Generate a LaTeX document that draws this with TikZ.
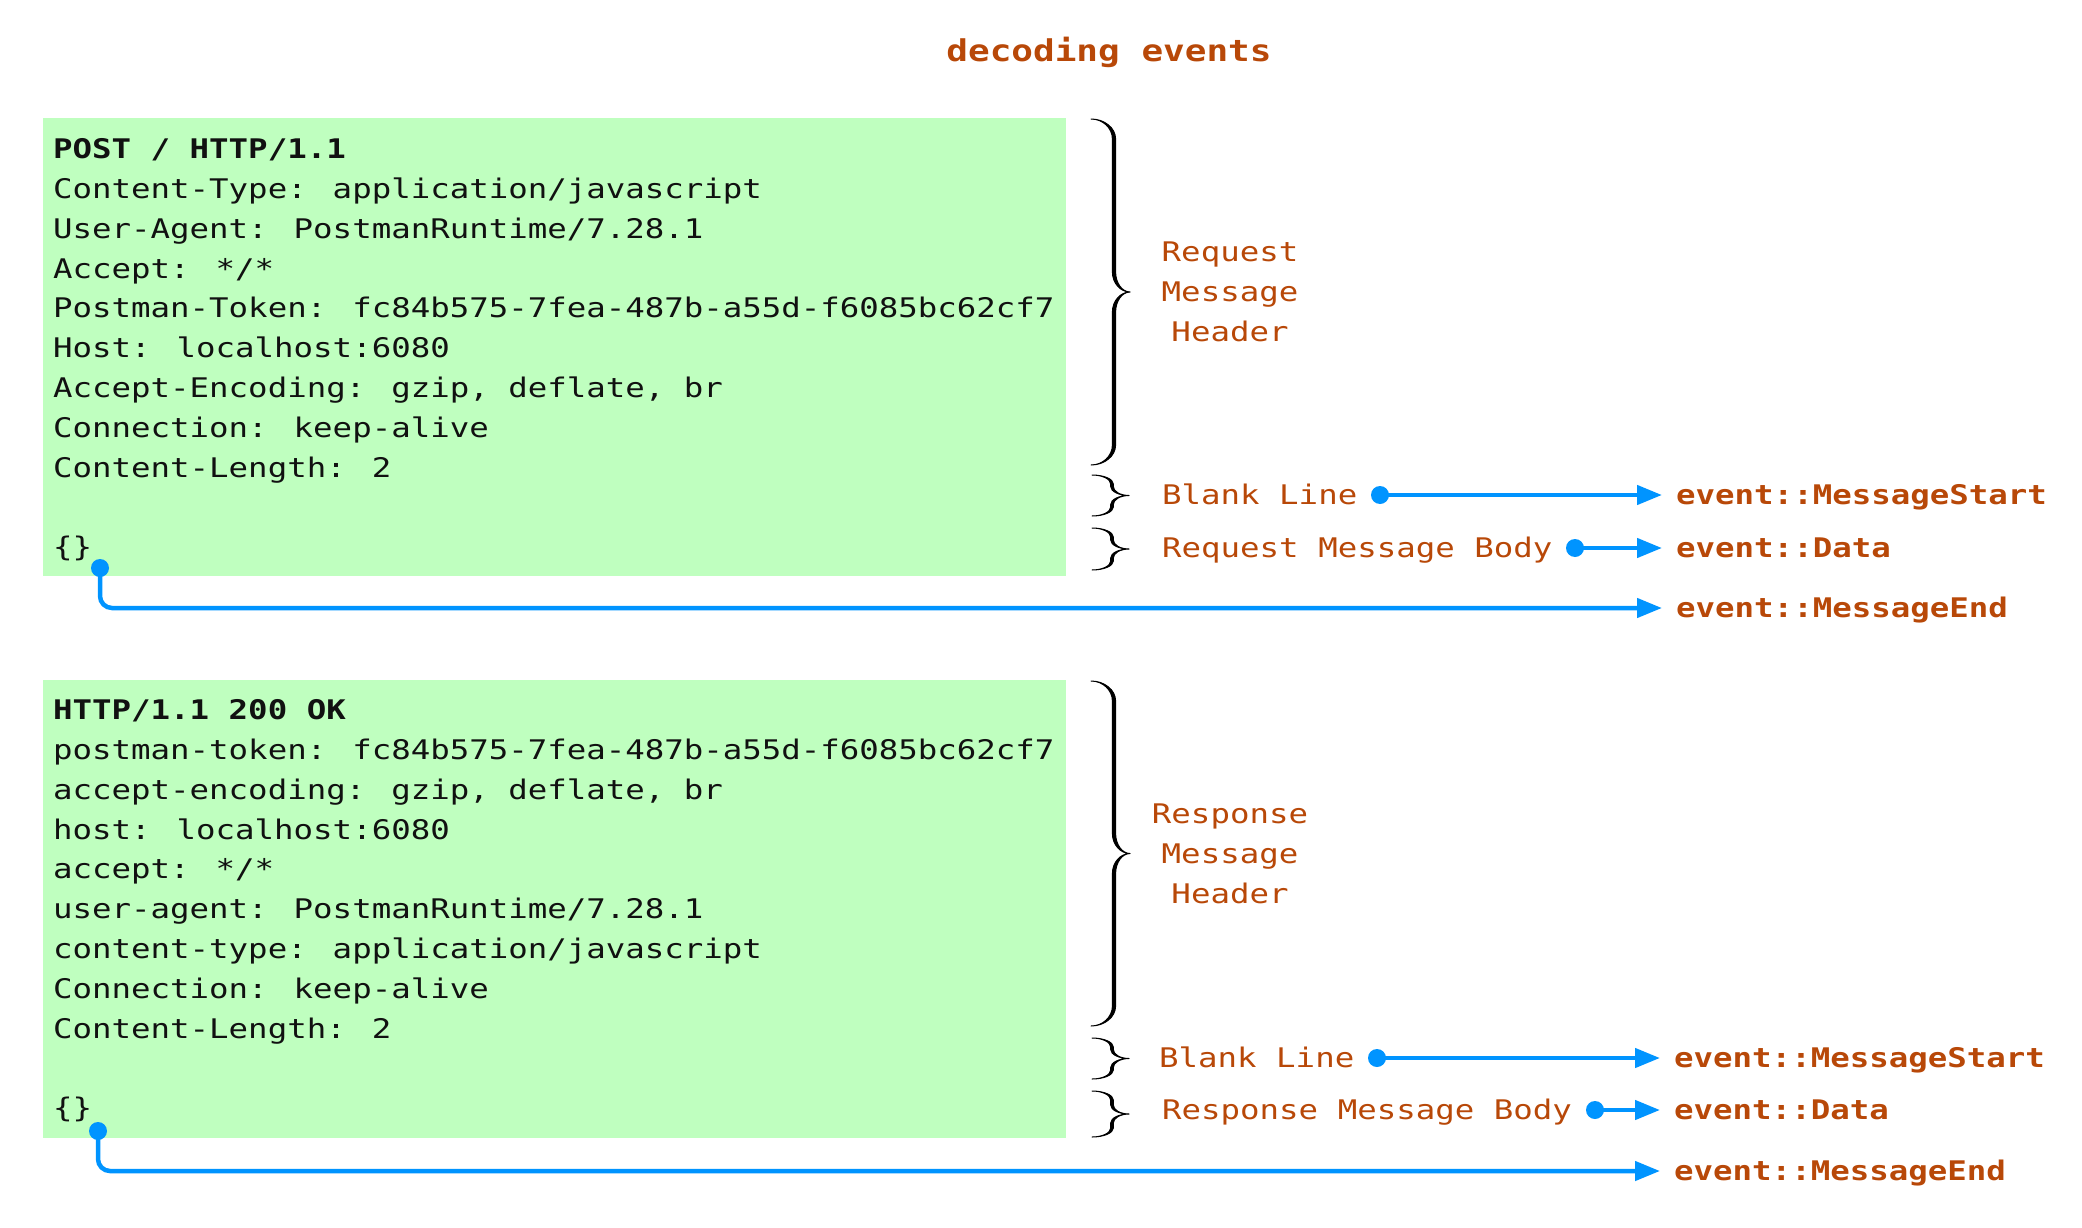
\documentclass[tikz,border=0pt]{standalone}
\usepackage{fontspec}
\usetikzlibrary{arrows.meta}
\newfontfamily\mono[FakeStretch=1.2]{DejaVu Sans Mono}
\definecolor{orng}{HTML}{B84808}
\definecolor{grn}{HTML}{BFFFBF}
\definecolor{blu}{HTML}{0094FF}
\definecolor{ink}{HTML}{111111}
\tikzset{
  codefont/.style={font=\mono\fontsize{27}{40}\selectfont},
  codeline/.style={codefont, text=ink, inner sep=0pt, text height=19.5pt, text depth=0pt, anchor=west},
  boldline/.style={codeline, font=\mono\bfseries\fontsize{27}{40}\selectfont},
  lab/.style={codefont, text=orng, inner sep=0pt, text height=19.5pt, text depth=0pt, anchor=west},
  hdr/.style={codefont, text=orng, inner sep=0pt, align=center},
  ev/.style={font=\mono\bfseries\fontsize{27}{40}\selectfont, text=orng, inner xsep=14pt, inner ysep=0pt, text height=19.5pt, text depth=0pt, anchor=west},
  msgbox/.style={fill=grn, draw=none, inner sep=0pt, anchor=north west},
  dot/.style={circle, fill=blu, inner sep=0pt, minimum size=18pt},
  conn/.style={draw=blu, line width=4.5pt, -{Triangle[length=25pt,width=19pt]}},
  brcstyle/.style={fill=black, draw=black, line width=1pt, line join=round},
}
% #1 hook x, #2 stem x, #3 tip x, #4 top y, #5 bottom y, #6 stem width, #7 curve radius
\newcommand{\mybrc}[7]{%
  \pgfmathsetmacro\bm{(#4+#5)/2}%
  \pgfmathsetmacro\bR{#2+#6/2}%
  \pgfmathsetmacro\bL{#2-#6/2}%
  \filldraw[brcstyle]
    (#1,#4) .. controls ({#1+0.55*(\bR-#1)},#4) and (\bR,{#4+0.45*#7}) .. (\bR,{#4+#7})
    -- (\bR,{\bm-#7}) .. controls (\bR,{\bm-0.45*#7}) and ({#3-0.55*(#3-\bR)},\bm) .. (#3,\bm)
    .. controls ({#3-0.55*(#3-\bR)},\bm) and (\bR,{\bm+0.45*#7}) .. (\bR,{\bm+#7})
    -- (\bR,{#5-#7}) .. controls (\bR,{#5-0.45*#7}) and ({#1+0.55*(\bR-#1)},#5) .. (#1,#5)
    .. controls ({#1+0.55*(\bL-#1)},#5) and (\bL,{#5-0.45*#7}) .. (\bL,{#5-#7})
    -- (\bL,{\bm+#7}) .. controls (\bL,{\bm+0.45*#7}) and ({#3-0.55*(#3-\bL)},\bm) .. (#3,\bm)
    .. controls ({#3-0.55*(#3-\bL)},\bm) and (\bL,{\bm-0.45*#7}) .. (\bL,{\bm-#7})
    -- (\bL,{#4+#7}) .. controls (\bL,{#4+0.45*#7}) and ({#1+0.55*(\bL-#1)},#4) .. (#1,#4) -- cycle;%
}
\begin{document}
\begin{tikzpicture}[x=1pt,y=-1pt]
\useasboundingbox (0,0) rectangle (2082,1228);

\node[font=\mono\bfseries\fontsize{30}{36}\selectfont, text=orng] (title) at (1109,52) {decoding events};

% ---------- request ----------
\node[msgbox, minimum width=1023.5pt, minimum height=458pt] (req) at (42.5,118) {};
\node[boldline] (q1) at (53,149) {POST / HTTP/1.1};
\node[codeline] (q2) at (53,188.8) {Content-Type: application/javascript};
\node[codeline] (q3) at (53,228.6) {User-Agent: PostmanRuntime/7.28.1};
\node[codeline] (q4) at (53,268.4) {Accept: */*};
\node[codeline] (q5) at (53,308.2) {Postman-Token: fc84b575-7fea-487b-a55d-f6085bc62cf7};
\node[codeline] (q6) at (53,348) {Host: localhost:6080};
\node[codeline] (q7) at (53,387.8) {Accept-Encoding: gzip, deflate, br};
\node[codeline] (q8) at (53,427.6) {Connection: keep-alive};
\node[codeline] (q9) at (53,467.4) {Content-Length: 2};
\node[codeline] (q10) at (53,547) {\{\}};

\mybrc{1091}{1114}{1130}{119}{465}{3.2}{20}
\mybrc{1092}{1112}{1129}{475}{516}{2.6}{9}
\mybrc{1092}{1112}{1129}{528}{570}{2.6}{9}

\node[hdr] (qh) at (1230,292) {Request\\Message\\Header};
\node[lab] (qbl) at (1162,495) {Blank Line};
\node[lab] (qbd) at (1162,548) {Request Message Body};

\node[dot] (qd1) at (1380,495) {};
\node[dot] (qd2) at (1575,548) {};
\node[dot] (qd3) at (100,568) {};

\node[ev] (qe1) at (1662,495) {event::MessageStart};
\node[ev] (qe2) at (1662,548) {event::Data};
\node[ev] (qe3) at (1662,608) {event::MessageEnd};

\draw[conn] (qd1.center) -- (qe1.west);
\draw[conn] (qd2.center) -- (qe2.west);
\draw[conn, rounded corners=12pt] (qd3.center) |- (qe3.west);

% ---------- response ----------
\node[msgbox, minimum width=1023.5pt, minimum height=458pt] (rsp) at (42.5,680) {};
\node[boldline] (r1) at (53,710) {HTTP/1.1 200 OK};
\node[codeline] (r2) at (53,749.8) {postman-token: fc84b575-7fea-487b-a55d-f6085bc62cf7};
\node[codeline] (r3) at (53,789.6) {accept-encoding: gzip, deflate, br};
\node[codeline] (r4) at (53,829.4) {host: localhost:6080};
\node[codeline] (r5) at (53,869.2) {accept: */*};
\node[codeline] (r6) at (53,909) {user-agent: PostmanRuntime/7.28.1};
\node[codeline] (r7) at (53,948.8) {content-type: application/javascript};
\node[codeline] (r8) at (53,988.6) {Connection: keep-alive};
\node[codeline] (r9) at (53,1028.4) {Content-Length: 2};
\node[codeline] (r10) at (53,1108) {\{\}};

\mybrc{1091}{1114}{1130}{681}{1026}{3.2}{20}
\mybrc{1092}{1112}{1129}{1038}{1079}{2.6}{9}
\mybrc{1092}{1112}{1129}{1091}{1137}{2.6}{9}

\node[hdr] (rh) at (1230,854) {Response\\Message\\Header};
\node[lab] (rbl) at (1159,1058) {Blank Line};
\node[lab] (rbd) at (1162,1110) {Response Message Body};

\node[dot] (rd1) at (1377,1058) {};
\node[dot] (rd2) at (1595,1110) {};
\node[dot] (rd3) at (98,1131) {};

\node[ev] (re1) at (1660,1058) {event::MessageStart};
\node[ev] (re2) at (1660,1110) {event::Data};
\node[ev] (re3) at (1660,1171) {event::MessageEnd};

\draw[conn] (rd1.center) -- (re1.west);
\draw[conn] (rd2.center) -- (re2.west);
\draw[conn, rounded corners=12pt] (rd3.center) |- (re3.west);
\end{tikzpicture}
\end{document}
